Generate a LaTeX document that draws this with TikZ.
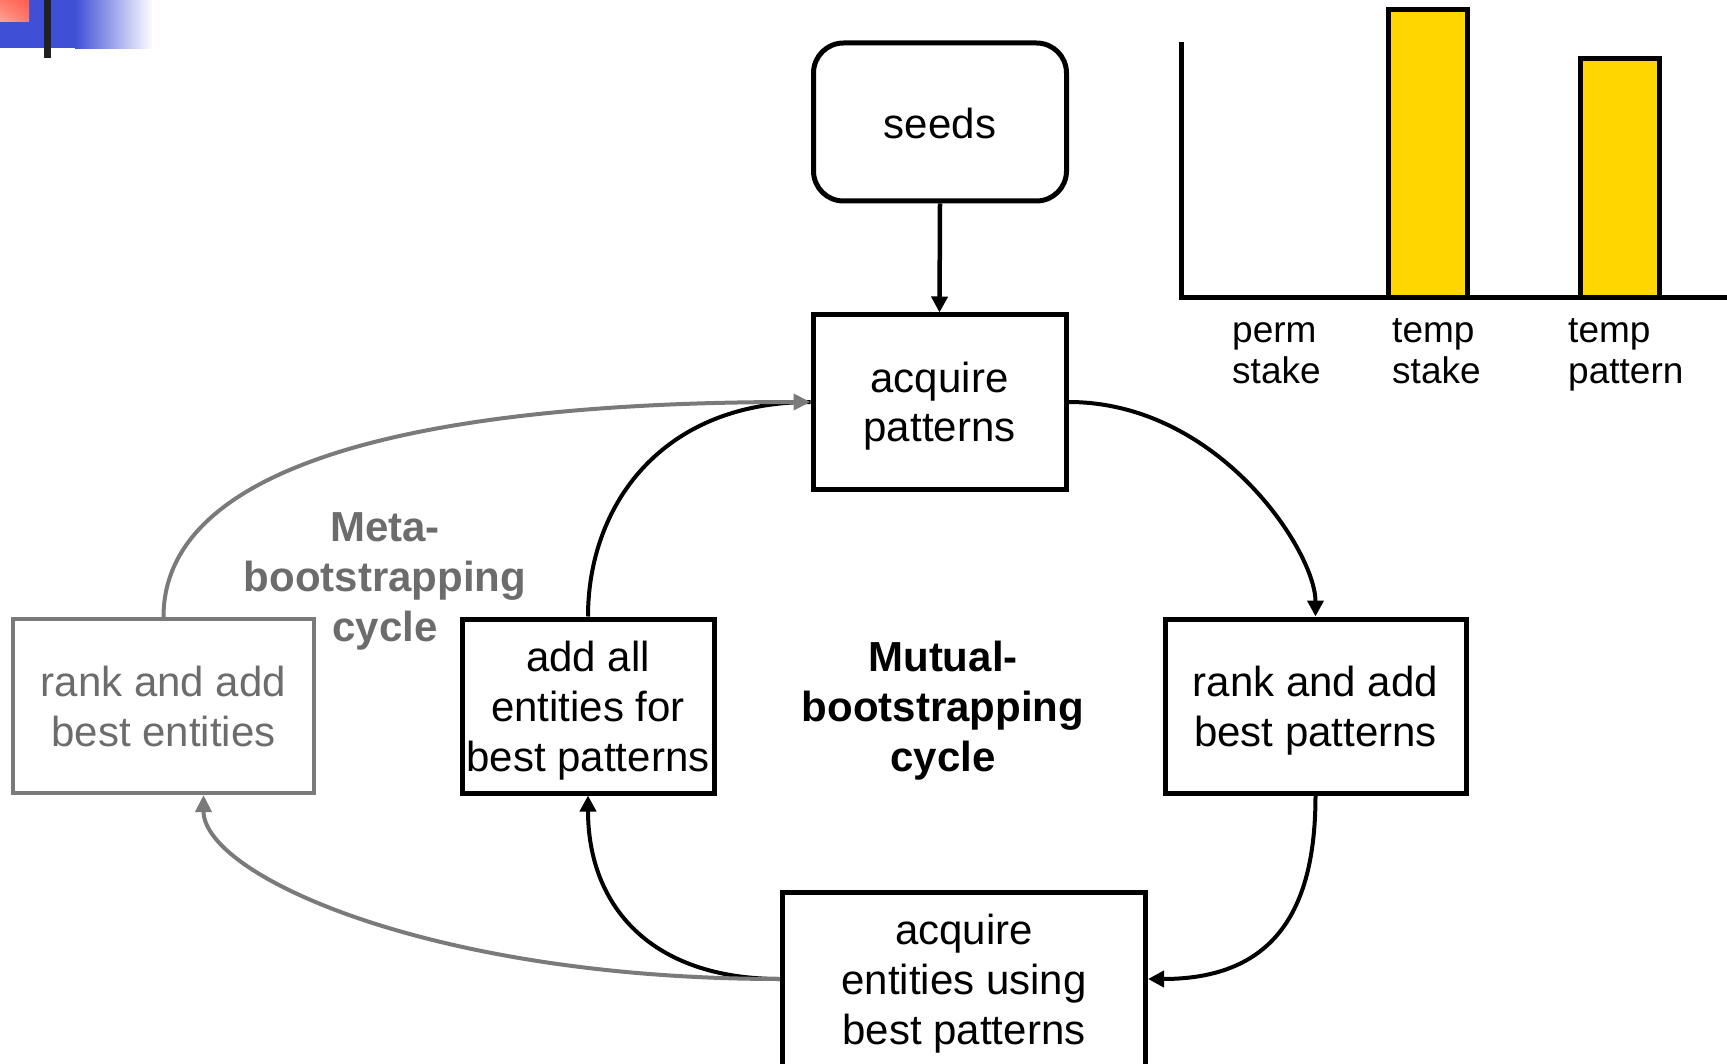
\documentclass[tikz,border=0pt]{standalone}
\usepackage{fontspec}
\setmainfont{Liberation Sans}
\usetikzlibrary{arrows.meta,shadings}
\definecolor{inkgray}{RGB}{108,108,108}
\definecolor{linegray}{RGB}{122,122,122}
\definecolor{bargold}{RGB}{255,214,0}
\definecolor{flagblue}{RGB}{64,80,214}
\definecolor{flagred}{RGB}{255,92,78}
\definecolor{flagpink}{RGB}{255,165,150}
\begin{document}
\begin{tikzpicture}[x=1pt,y=-1pt,
  box/.style={draw=black,line width=5pt,rectangle,inner sep=0pt,align=center,
    minimum height=174pt,text depth=0pt,font=\fontsize{42}{50}\selectfont},
  twolines/.style={text height=81pt},
  threelines/.style={text height=#1},
  graybox/.style={box,draw=linegray,line width=4pt,text=inkgray},
  flow/.style={line width=4pt,-{Triangle[length=16pt,width=16pt]}},
  grayflow/.style={line width=4pt,draw=linegray,color=linegray,-{Triangle[length=17pt,width=16pt]}},
  cyclelabel/.style={font=\fontsize{42}{50}\selectfont\bfseries,align=center,inner sep=0pt},
  barlabel/.style={font=\fontsize{37}{41}\selectfont,align=left,inner sep=0pt,anchor=base west},
  bar/.style={draw=black,line width=5pt,fill=bargold}
]
\useasboundingbox (0,0) rectangle (1727,1064);

% corner ornament
\fill[flagblue] (0,0) rectangle (76,48);
\shade[left color=flagblue,right color=white] (75,0) rectangle (153,49);
\shade[upper right=flagred,lower left=flagpink,upper left=flagred!60!flagpink,lower right=flagred!60!flagpink] (0,0) rectangle (29,22);
\fill[black!87] (44,0) rectangle (51,58);

% bar chart
\draw[line width=5pt] (1181,42) -- (1181,298);
\draw[bar] (1388.5,298) rectangle (1467.5,9.5);
\draw[bar] (1580.5,298) rectangle (1659.5,58.5);
\draw[line width=5pt] (1179,298) -- (1727,298);
\node[barlabel] (perm) at (1232,384) {perm\\stake};
\node[barlabel] (tstake) at (1392,384) {temp\\stake};
\node[barlabel] (tpat) at (1568,384) {temp\\pattern};

% process boxes
\node[box,rounded corners=30pt,minimum width=253pt,minimum height=158pt,text height=32.6pt] (seeds) at (940,122) {seeds};
\node[box,text height=80pt,minimum width=253pt] (ap) at (939.5,402) {acquire\\patterns};
\node[box,twolines,minimum width=301pt] (rb) at (1315.5,706) {rank and add\\best patterns};
\node[box,threelines=131pt,minimum width=363pt] (bot) at (964,979) {acquire\\entities using\\best patterns};
\node[box,threelines=131pt,minimum width=252pt] (aa) at (588,706) {add all\\entities for\\best patterns};
\node[graybox,twolines,minimum width=301pt] (gb) at (163.5,706) {rank and add\\best entities};

% cycle captions
\node[cyclelabel,text=inkgray] (meta) at (385,581) {Meta-\\bootstrapping\\cycle};
\node[cyclelabel] (mutual) at (943,711) {Mutual-\\bootstrapping\\cycle};

% mutual-bootstrapping loop
\draw[flow,line width=4.5pt] (seeds.south) -- (ap.north);
\draw[flow] (ap.east) .. controls +(150,0) and +(0,-65) .. (rb.north);
\draw[flow] (rb.south) .. controls +(0,110) and +(130,0) .. (bot.east);
\draw[flow] (bot.west) .. controls +(-130,0) and +(0,110) .. (aa.south);
\draw[line width=4pt] (aa.north) .. controls +(0,-110) and +(-150,0) .. (ap.west);

% meta-bootstrapping loop
\draw[grayflow] (bot.west) .. controls +(-350,0) and +(0,80) .. ([xshift=40pt]gb.south);
\draw[grayflow] (gb.north) .. controls +(0,-150) and +(-400,0) .. (ap.west);
\end{tikzpicture}
\end{document}
